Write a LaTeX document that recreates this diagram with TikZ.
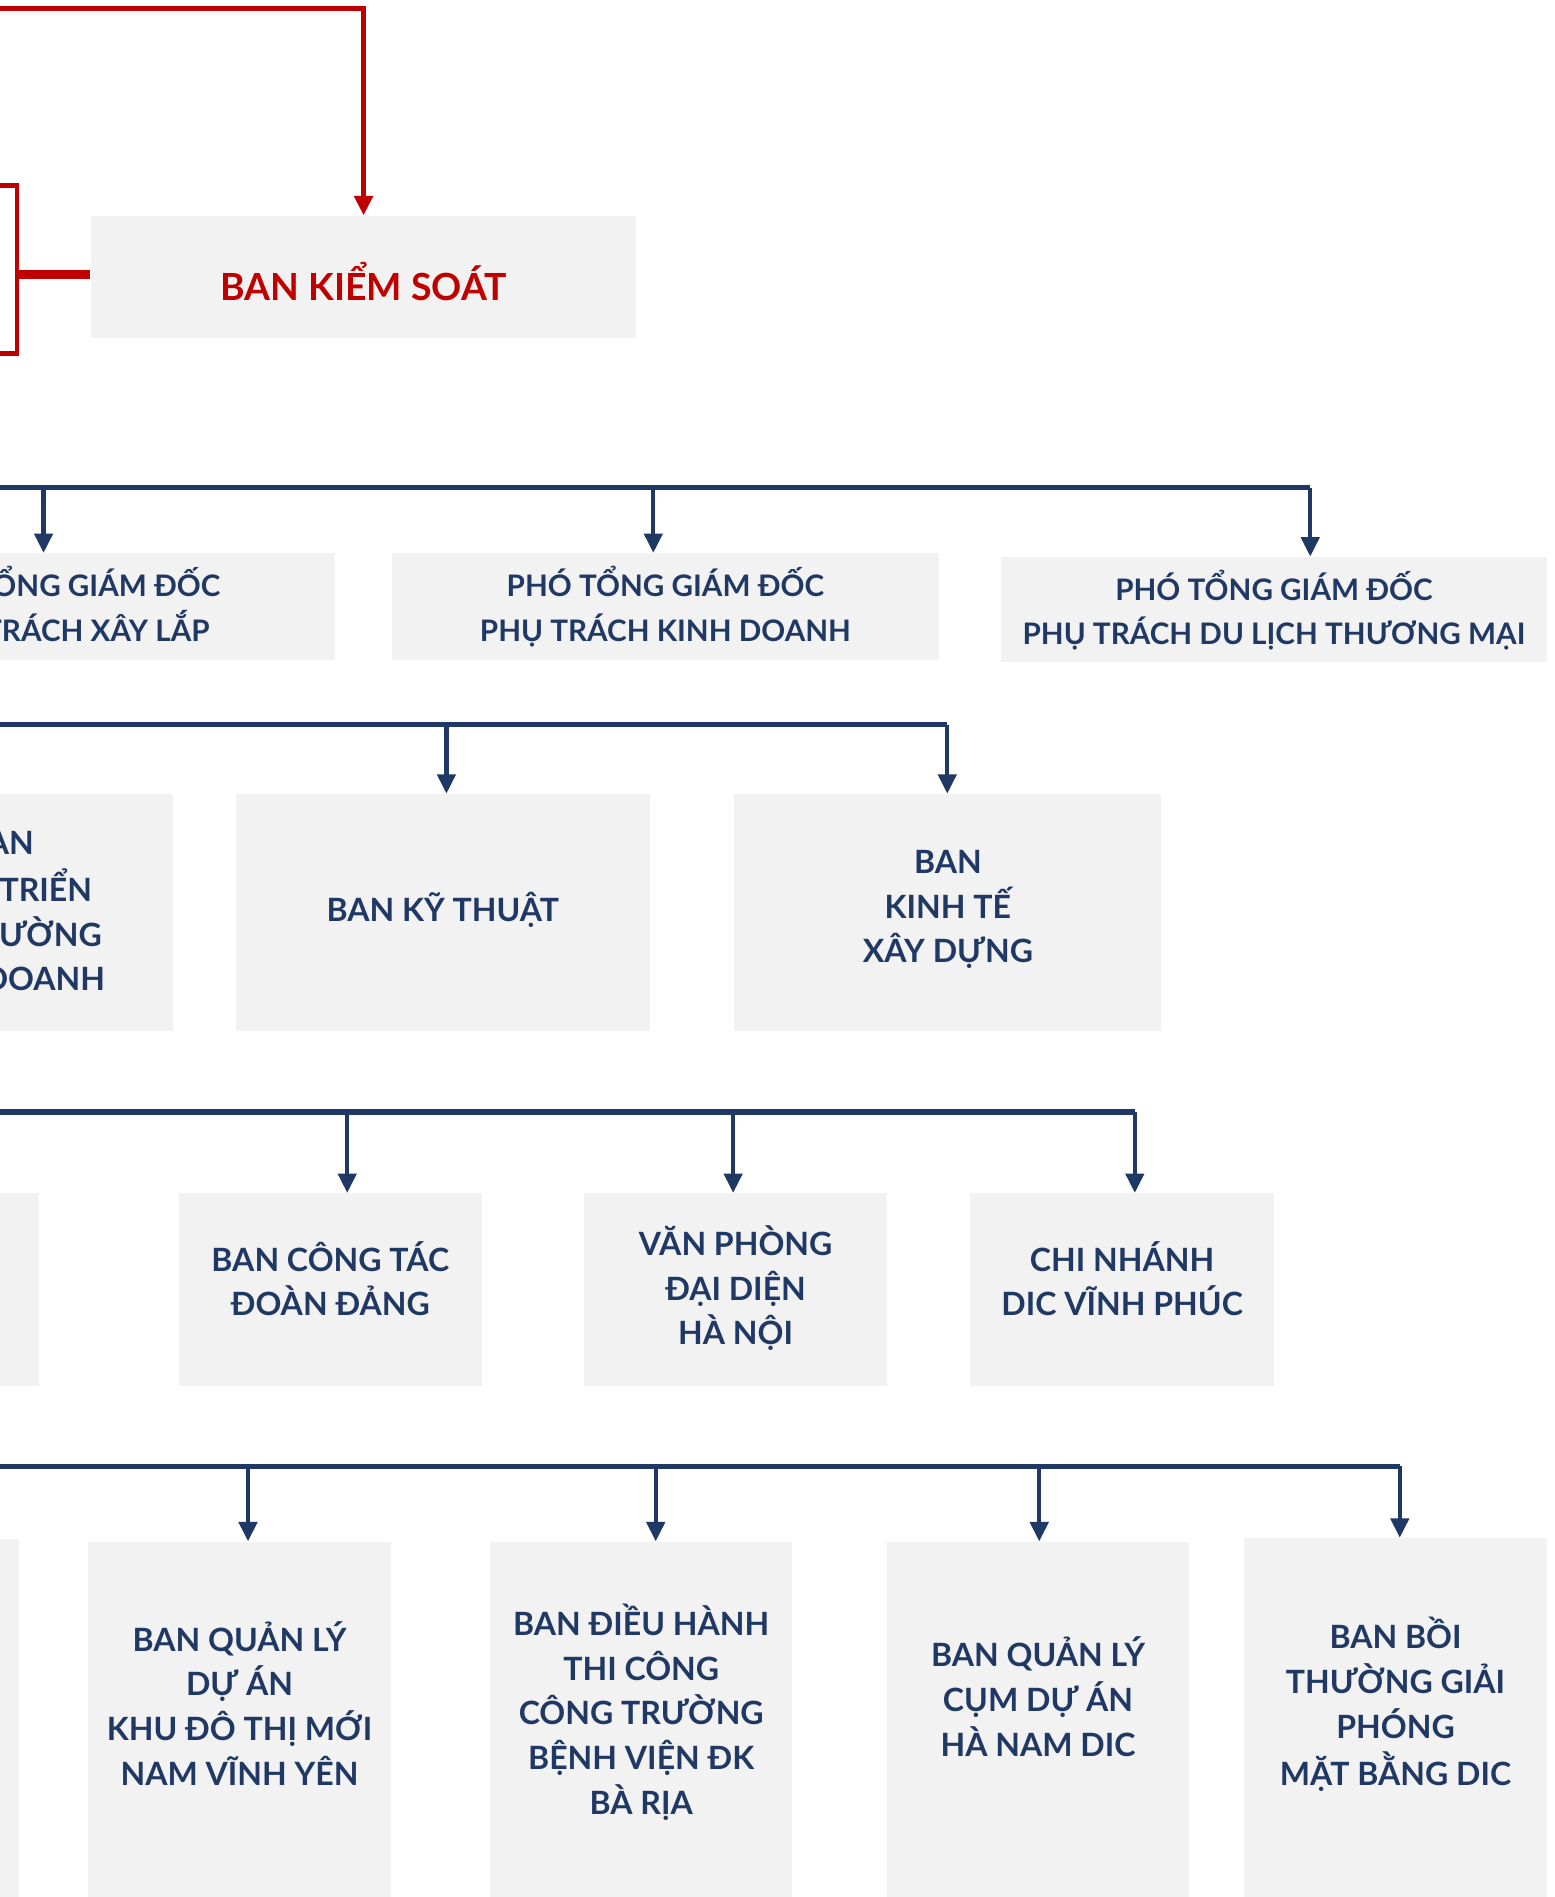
\documentclass[tikz,border=0pt]{standalone}
\usepackage{fontspec}
\setmainfont{Lato}
\usetikzlibrary{arrows.meta}
\definecolor{dicred}{HTML}{C00000}
\definecolor{dicblue}{HTML}{203864}
\definecolor{dicgray}{HTML}{F2F2F2}
\newcommand{\unitlines}[1]{\begin{tabular}[t]{@{}c@{}}#1\end{tabular}}

\begin{document}
\begin{tikzpicture}[x=1pt,y=-1pt,
  unit/.style 2 args={shape=rectangle,fill=dicgray,inner sep=0pt,anchor=north,text=dicblue,
    font=\fontsize{26.5}{37}\selectfont\bfseries,text height=#1,text depth=#2},
  unitS/.style 2 args={unit={#1}{#2},font=\fontsize{24.5}{37}\selectfont\bfseries},
  unitR/.style 2 args={unit={#1}{#2},text=dicred,font=\fontsize{30.9}{37}\selectfont\bfseries},
  bus/.style={draw=dicblue,line width=4.5pt},
  drop/.style={draw=dicblue,line width=3.5pt,-{Triangle[width=15pt,length=16pt]}},
  redline/.style={draw=dicred,line width=4pt},
  redlink/.style={draw=dicred,line width=8pt}]
\useasboundingbox (0,0) rectangle (1285,1568);

% control board
\node[unitR={70pt}{31pt},minimum width=451pt] (pKS) at (300.5,178) {BAN KIỂM SOÁT};
\coordinate (rTop) at (0,7);
\draw[redline,-{Triangle[width=15pt,length=16pt]}] (rTop) -| (pKS.north);
\coordinate (rBrT) at (0,153);
\coordinate (rBrB) at (0,292);
\coordinate (rBrM) at (14,227);
\draw[redline] (rBrT) -- ++(14,0) |- (rBrB);
\draw[redlink] (rBrM) -- (rBrM -| pKS.west);

% deputy directors
\node[unitS={35.8pt}{52.2pt},minimum width=452pt] (pA) at (51,457) {\unitlines{PHÓ TỔNG GIÁM ĐỐC\\PHỤ TRÁCH XÂY LẮP}};
\node[unitS={35.8pt}{52.2pt},minimum width=452pt] (pB) at (550,457) {\unitlines{PHÓ TỔNG GIÁM ĐỐC\\PHỤ TRÁCH KINH DOANH}};
\node[unitS={35.8pt}{51.2pt},minimum width=452pt] (pC) at (1053,460) {\unitlines{PHÓ TỔNG GIÁM ĐỐC\\PHỤ TRÁCH DU LỊCH THƯƠNG MẠI}};
\coordinate (bus2W) at (0,403);
\coordinate (bus2E) at (1083,403);
\draw[bus] (bus2W) -- (bus2E);
\draw[drop] (36,403) -- (36,403 |- pA.north);
\draw[drop] (540,403) -- (540,403 |- pB.north);
\draw[drop] (bus2E) -- (bus2E |- pC.north);

% departments
\node[unit={50.5pt}{145.5pt},minimum width=286pt] (pD) at (0,656) {\unitlines{BAN\\PHÁT TRIỂN\\THỊ TRƯỜNG\\KINH DOANH}};
\node[unit={105.5pt}{90.5pt},minimum width=342pt] (pE) at (366,656) {\unitlines{BAN KỸ THUẬT}};
\node[unit={65.5pt}{130.5pt},minimum width=353pt] (pF) at (783.5,656) {\unitlines{BAN\\KINH TẾ\\XÂY DỰNG}};
\coordinate (bus3W) at (0,599);
\coordinate (bus3E) at (783,599);
\draw[bus] (bus3W) -- (bus3E);
\draw[drop] (369,599) -- (369,599 |- pE.north);
\draw[drop] (bus3E) -- (bus3E |- pF.north);

% offices
\node[unit={0pt}{159pt},minimum width=250pt] (pG) at (-93,986) {};
\node[unit={64.5pt}{94.5pt},minimum width=250pt] (pH) at (273,986) {\unitlines{BAN CÔNG TÁC\\ĐOÀN ĐẢNG}};
\node[unit={51.5pt}{107.5pt},minimum width=250pt] (pI) at (608,986) {\unitlines{VĂN PHÒNG\\ĐẠI DIỆN\\HÀ NỘI}};
\node[unit={64.5pt}{94.5pt},minimum width=251pt] (pJ) at (927.5,986) {\unitlines{CHI NHÁNH\\DIC VĨNH PHÚC}};
\coordinate (bus4W) at (0,919);
\coordinate (bus4E) at (938,919);
\draw[bus] (bus4W) -- (bus4E);
\draw[drop] (287,919) -- (287,919 |- pH.north);
\draw[drop] (606,919) -- (606,919 |- pI.north);
\draw[drop] (bus4E) -- (bus4E |- pJ.north);

% project boards
\node[unit={0pt}{330pt},minimum width=250pt] (pK) at (-109,1272) {};
\node[unit={90.5pt}{260pt},minimum width=250pt] (pL) at (198,1274) {\unitlines{BAN QUẢN LÝ\\DỰ ÁN\\KHU ĐÔ THỊ MỚI\\NAM VĨNH YÊN}};
\node[unit={77.5pt}{260pt},minimum width=250pt] (pM) at (530,1274) {\unitlines{BAN ĐIỀU HÀNH\\THI CÔNG\\CÔNG TRƯỜNG\\BỆNH VIỆN ĐK\\BÀ RỊA}};
\node[unit={103.5pt}{260pt},minimum width=250pt] (pN) at (858,1274) {\unitlines{BAN QUẢN LÝ\\CỤM DỰ ÁN\\HÀ NAM DIC}};
\node[unit={91.5pt}{260pt},minimum width=251pt] (pO) at (1153.5,1271) {\unitlines{BAN BỒI\\THƯỜNG GIẢI\\PHÓNG\\MẶT BẰNG DIC}};
\coordinate (bus5W) at (0,1212);
\coordinate (bus5E) at (1157,1212);
\draw[bus] (bus5W) -- (bus5E);
\draw[drop] (205,1212) -- (205,1212 |- pL.north);
\draw[drop] (542,1212) -- (542,1212 |- pM.north);
\draw[drop] (859,1212) -- (859,1212 |- pN.north);
\draw[drop] (bus5E) -- (bus5E |- pO.north);

\end{tikzpicture}
\end{document}
